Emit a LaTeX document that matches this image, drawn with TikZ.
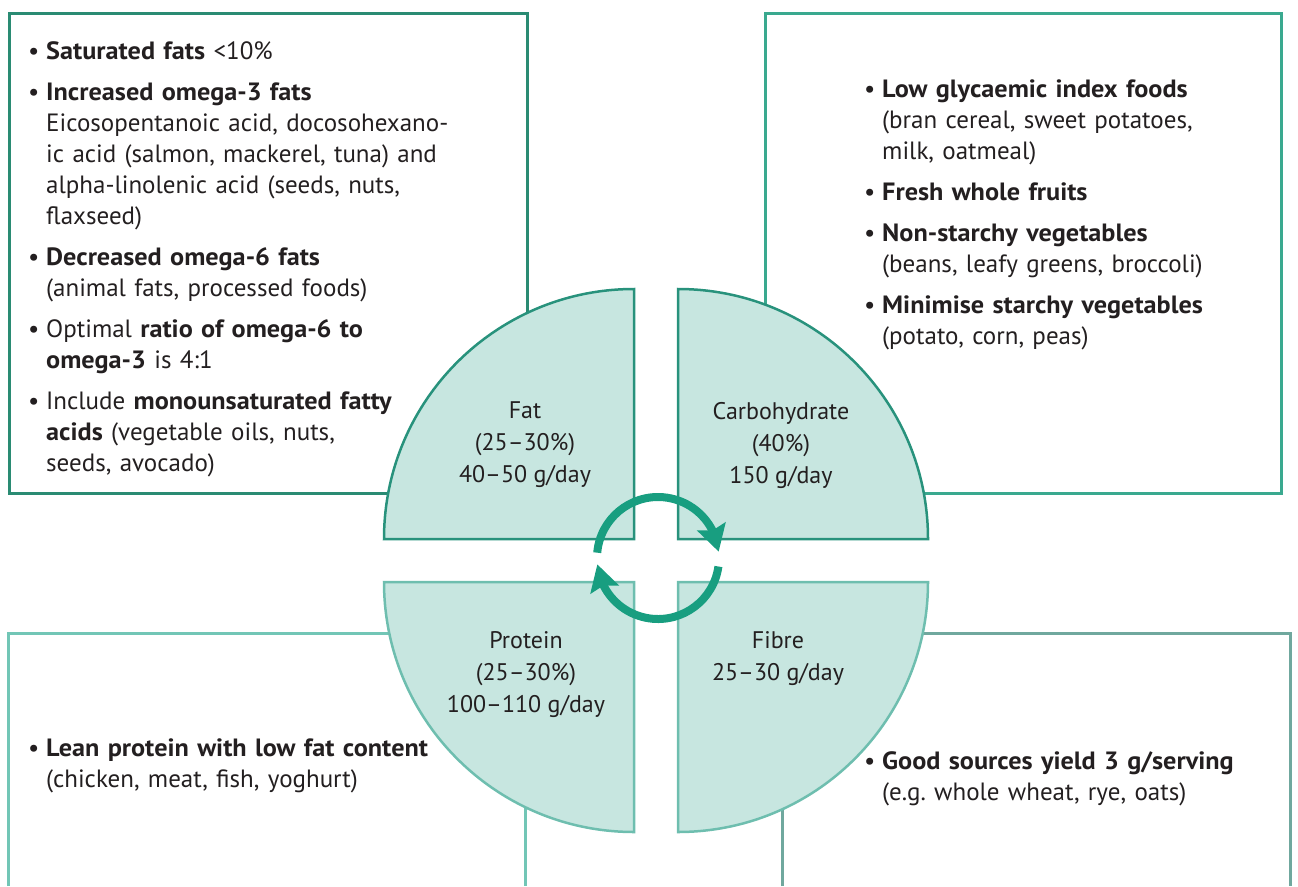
\documentclass[tikz,border=0pt]{standalone}
\usepackage{fontspec}
\setmainfont[BoldFeatures={FakeStretch=1.05}]{PT Sans}
\usetikzlibrary{arrows.meta,bending}

\definecolor{tealdark}{RGB}{42,139,115}
\definecolor{tealmid}{RGB}{58,169,143}
\definecolor{teallight}{RGB}{114,198,182}
\definecolor{tealgrey}{RGB}{112,168,158}
\definecolor{quarterfill}{RGB}{199,230,224}
\definecolor{quarterdark}{RGB}{40,146,124}
\definecolor{quarterlight}{RGB}{110,190,175}
\definecolor{cyclegreen}{RGB}{24,158,128}
\definecolor{inktext}{RGB}{35,31,32}

% one bullet point, later lines indented under the text
\newcommand{\bitem}[1]{{\leftskip=18pt\noindent\llap{\makebox[18pt][l]{\textbullet}}#1\par}\vspace{10pt}}

\begin{document}
\begin{tikzpicture}[x=1pt, y=-1pt,
    boxline/.style={line width=3pt},
    quarter/.style={fill=quarterfill, line width=2.5pt},
    boxtext/.style={anchor=base west, text width=480pt, inner sep=0pt,
        font=\fontsize{25}{31}\selectfont, text=inktext},
    qlabel/.style={align=center, inner sep=0pt, font=\fontsize{24}{32}\selectfont, text=inktext},
    cyclearrow/.style={cyclegreen, line width=8pt, -{Stealth[length=26pt,width=29pt,inset=4pt]}}]
    \useasboundingbox (0,0) rectangle (1298,886);

    % frames behind the quarters
    \draw[boxline, tealdark] (9,13) rectangle (527,493);
    \draw[boxline, tealmid] (765,13) rectangle (1281,493);
    \draw[boxline, teallight] (8,886) -- (8,633) -- (525,633) -- (525,886);
    \draw[boxline, tealgrey] (782,886) -- (782,633) -- (1290,633) -- (1290,886);

    % four quarters
    \coordinate (fatc) at (634,539);
    \coordinate (carbc) at (678,539);
    \coordinate (protc) at (634,582);
    \coordinate (fibc) at (678,582);

    \draw[quarter, draw=quarterdark] (fatc) -- ++(0,-250) arc[start angle=270, end angle=180, radius=250] -- cycle;
    \draw[quarter, draw=quarterdark] (carbc) -- ++(0,-250) arc[start angle=270, end angle=360, radius=250] -- cycle;
    \draw[quarter, draw=quarterlight] (protc) -- ++(0,250) arc[start angle=90, end angle=180, radius=250] -- cycle;
    \draw[quarter, draw=quarterlight] (fibc) -- ++(0,250) arc[start angle=90, end angle=0, radius=250] -- cycle;

    \node[qlabel] (fat) at (525,445) {Fat\\(25–30\%)\\40–50 g/day};
    \node[qlabel] (carb) at (781,445) {Carbohydrate\\(40\%)\\150 g/day};
    \node[qlabel] (prot) at (526,675) {Protein\\(25–30\%)\\100–110 g/day};
    \node[qlabel] (fib) at (778,659) {Fibre\\25–30 g/day};

    % cycle arrows
    \coordinate (cyc) at (658,558);
    \draw[cyclearrow] ([shift={(185:61)}]cyc) arc[start angle=185, end angle=354, radius=61];
    \draw[cyclearrow] ([shift={(8:61)}]cyc) arc[start angle=8, end angle=174, radius=61];

    % box texts
    \node[boxtext] (fattxt) at (28,59) {%
        \bitem{\textbf{Saturated fats} <10\%}%
        \bitem{\textbf{Increased omega-3 fats}\\ Eicosopentanoic acid, docosohexano-\\ ic acid (salmon, mackerel, tuna) and\\ alpha-linolenic acid (seeds, nuts,\\ flaxseed)}%
        \bitem{\textbf{Decreased omega-6 fats}\\ (animal fats, processed foods)}%
        \bitem{Optimal \textbf{ratio of omega-6 to}\\ \textbf{omega-3} is 4:1}%
        \bitem{Include \textbf{monounsaturated fatty}\\ \textbf{acids} (vegetable oils, nuts,\\ seeds, avocado)}};

    \node[boxtext] (carbtxt) at (864,97) {%
        \bitem{\textbf{Low glycaemic index foods}\\ (bran cereal, sweet potatoes,\\ milk, oatmeal)}%
        \bitem{\textbf{Fresh whole fruits}}%
        \bitem{\textbf{Non-starchy vegetables}\\ (beans, leafy greens, broccoli)}%
        \bitem{\textbf{Minimise starchy vegetables}\\ (potato, corn, peas)}};

    \node[boxtext] (prottxt) at (28,756) {%
        \bitem{\textbf{Lean protein with low fat content}\\ (chicken, meat, fish, yoghurt)}};

    \node[boxtext] (fibtxt) at (864,769) {%
        \bitem{\textbf{Good sources yield 3 g/serving}\\ (e.g.\ whole wheat, rye, oats)}};
\end{tikzpicture}
\end{document}
